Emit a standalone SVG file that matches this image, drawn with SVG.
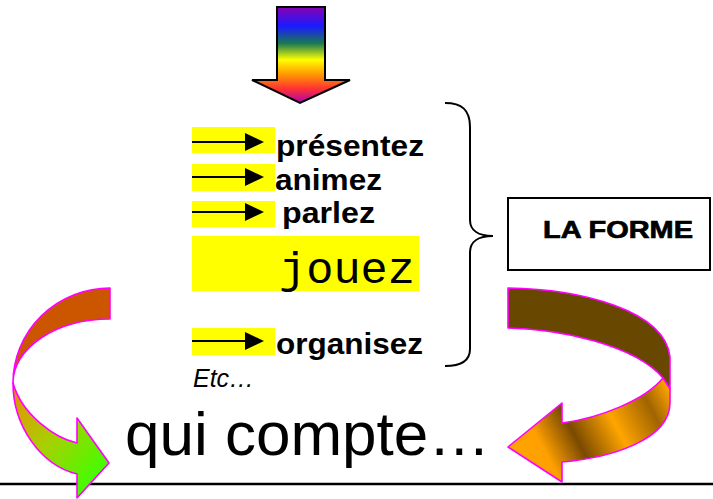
<svg xmlns="http://www.w3.org/2000/svg" width="713" height="499" viewBox="0 0 713 499">
<defs>
<style>
.hl{fill:#ffff00}
.ln{stroke:#000;stroke-width:2;fill:none}
.ah{fill:#000}
.bt{font-family:"Liberation Sans",Arial,sans-serif;font-weight:bold;font-size:30px;fill:#000}
.lf{font-family:"Liberation Sans",Arial,sans-serif;font-weight:bold;font-size:24px;fill:#000;stroke:#000;stroke-width:0.7}
.mono{font-family:"Liberation Mono","Courier New",monospace;font-size:45px;fill:#000}
.it{font-family:"Liberation Sans",Arial,sans-serif;font-style:italic;font-size:25px;fill:#000}
.big{font-family:"Liberation Sans",Arial,sans-serif;font-size:62px;fill:#000}
.box{fill:#fff;stroke:#000;stroke-width:2}
.curv{stroke:#ff00ff;stroke-width:1.6;stroke-linejoin:round}
</style>
<linearGradient id="rainbow" gradientUnits="userSpaceOnUse" x1="0" y1="7" x2="0" y2="103">
<stop offset="0" stop-color="#8a00b0"/>
<stop offset="0.2" stop-color="#1a1aff"/>
<stop offset="0.38" stop-color="#1a7a50"/>
<stop offset="0.55" stop-color="#ffff00"/>
<stop offset="0.7" stop-color="#ff9900"/>
<stop offset="0.85" stop-color="#ff3333"/>
<stop offset="1" stop-color="#b000b0"/>
</linearGradient>
<linearGradient id="greenGrad" gradientUnits="userSpaceOnUse" x1="13" y1="390" x2="105" y2="470">
<stop offset="0" stop-color="#e89000"/>
<stop offset="0.5" stop-color="#a8d000"/>
<stop offset="1" stop-color="#40ff00"/>
</linearGradient>
<linearGradient id="goldGrad" gradientUnits="userSpaceOnUse" x1="520" y1="470" x2="670" y2="390">
<stop offset="0" stop-color="#ffa500"/>
<stop offset="0.18" stop-color="#ffa000"/>
<stop offset="0.38" stop-color="#7a4a00"/>
<stop offset="0.62" stop-color="#ffa500"/>
<stop offset="0.85" stop-color="#a06400"/>
<stop offset="1" stop-color="#ffa500"/>
</linearGradient>
</defs>
<rect width="713" height="499" fill="#fff"/>

<line x1="0" y1="484" x2="713" y2="484" stroke="#000" stroke-width="2.5"/>

<g id="rainbow-arrow">
<path d="M277,7 L325,7 L325,80 L350,80 L300,103 L252,80 L277,80 Z" fill="url(#rainbow)" stroke="#000" stroke-width="2" stroke-linejoin="miter"/>
</g>

<g id="row-presentez">
<rect class="hl" x="192" y="127" width="83" height="26"/>
<line class="ln" x1="192" y1="142" x2="248" y2="142"/>
<polygon class="ah" points="245,133 264,142 245,151"/>
<text class="bt" x="276" y="156" textLength="148" lengthAdjust="spacingAndGlyphs">présentez</text>
</g>
<g id="row-animez">
<rect class="hl" x="192" y="164" width="83" height="27"/>
<line class="ln" x1="192" y1="177" x2="248" y2="177"/>
<polygon class="ah" points="245,168 264,177 245,186"/>
<text class="bt" x="275" y="190" textLength="107" lengthAdjust="spacingAndGlyphs">animez</text>
</g>
<g id="row-parlez">
<rect class="hl" x="192" y="201" width="83" height="26"/>
<line class="ln" x1="192" y1="212" x2="248" y2="212"/>
<polygon class="ah" points="245,203 264,212 245,221"/>
<text class="bt" x="282" y="223" textLength="93" lengthAdjust="spacingAndGlyphs">parlez</text>
</g>
<g id="row-jouez">
<rect class="hl" x="192" y="236" width="227" height="55"/>
<text class="mono" x="279" y="283" textLength="136" lengthAdjust="spacingAndGlyphs">jouez</text>
</g>
<g id="row-organisez">
<rect class="hl" x="192" y="328" width="83" height="27"/>
<line class="ln" x1="192" y1="341" x2="248" y2="341"/>
<polygon class="ah" points="245,332 264,341 245,350"/>
<text class="bt" x="276" y="354" textLength="147" lengthAdjust="spacingAndGlyphs">organisez</text>
</g>
<g id="etc">
<text class="it" x="193" y="387">Etc…</text>
</g>

<g id="la-forme">
<rect class="box" x="508" y="198" width="202" height="72"/>
<text class="lf" x="543" y="238" textLength="150" lengthAdjust="spacingAndGlyphs">LA FORME</text>
</g>

<g id="connectors">
<path d="M445,103 C462,103 470,110 470,127 L470,220 C470,230 478,236 493,236 C478,236 470,242 470,252 L470,349 C470,360 462,366 445,366" fill="none" stroke="#000" stroke-width="2"/>
</g>

<g id="left-curved-arrow">
<path class="curv" d="M110,288 A97,95 0 0 0 13,383 A97,64 0 0 1 110,319 Z" fill="#cc5500"/>
<path class="curv" d="M13,383 C13,425 40,465 77,474 L77,498 L109,463 L77,418 L77,443 C55,438 22,415 13,383 Z" fill="url(#greenGrad)"/>
</g>

<g id="right-curved-arrow">
<path class="curv" d="M508,288 C580,289 665,310 670,357 L670,389 L663,378 C635,345 560,329 508,328 Z" fill="#684700"/>
<path class="curv" d="M663,378 L670,389 L670,403 C670,440 610,458 562,462 L562,482 L508,447 L562,403 L562,423 C600,418 645,400 663,378 Z" fill="url(#goldGrad)"/>
</g>

<g id="qui-compte">
<text class="big" x="125" y="455">qui compte…</text>
</g>
</svg>
